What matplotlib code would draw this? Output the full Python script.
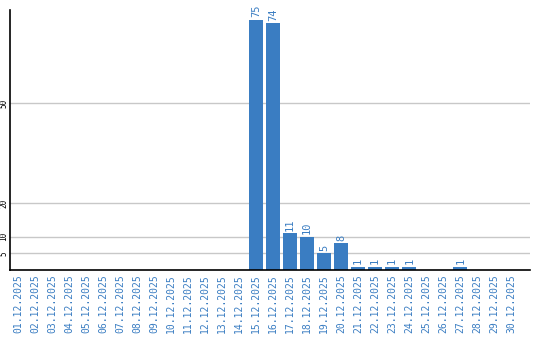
import matplotlib
matplotlib.use("Agg")
import matplotlib.pyplot as plt
import numpy as np

dates = [f"{d:02d}.12.2025" for d in range(1, 31)]
counts = [0, 0, 0, 0, 0, 0, 0, 0, 0, 0, 0, 0, 0, 0,
          75, 74, 11, 10, 5, 8, 1, 1, 1, 1, 0, 0, 1, 0, 0, 0]
y_ticks = [5, 10, 20, 50]

BLUE = "#3a7dc2"

fig = plt.figure(figsize=(5.4, 3.4), dpi=100)
ax = fig.add_axes([10 / 540, 70 / 340, 520 / 540, 260 / 340])

x = np.arange(len(dates))
ax.bar(x, counts, width=0.82, color=BLUE, zorder=2)
for xi, v in zip(x, counts):
    if v > 0:
        ax.text(xi, v + 0.8, str(v), rotation=90, ha="center", va="bottom",
                color=BLUE, fontsize=7.5, family="DejaVu Sans Mono")

ax.set_xlim(-0.47, 30.1)
ax.set_ylim(0, 78)
ax.set_yticks(y_ticks)
ax.set_yticklabels([str(t) for t in y_ticks], rotation=90, va="center",
                   fontsize=5.5, family="DejaVu Sans Mono")
ax.set_xticks(x)
ax.set_xticklabels(dates, rotation=90, color=BLUE, fontsize=7,
                   family="DejaVu Sans Mono")
ax.tick_params(axis="x", length=0, pad=3)
ax.tick_params(axis="y", length=0, pad=1.2)
ax.grid(axis="y", color="#c8c8c8", linewidth=1, zorder=0)
for s in ["top", "right"]:
    ax.spines[s].set_visible(False)
ax.spines["left"].set_linewidth(1.2)
ax.spines["bottom"].set_linewidth(1.2)

fig.savefig("out.png", dpi=100)
